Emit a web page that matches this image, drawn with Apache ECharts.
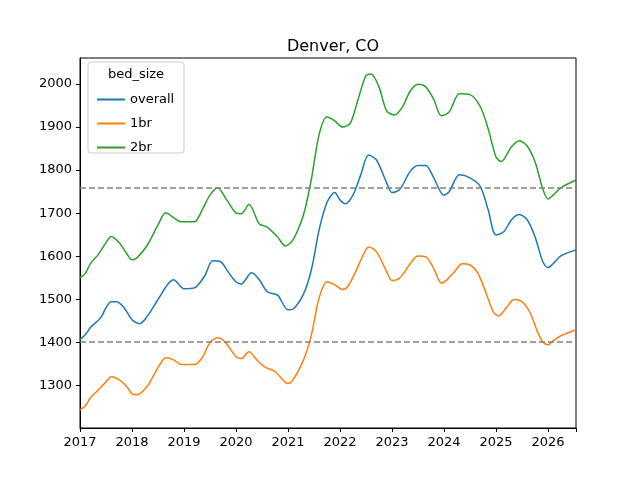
<!DOCTYPE html>
<html><head><meta charset="utf-8">
<script src="https://cdn.jsdelivr.net/npm/echarts@6/dist/echarts.min.js"></script>
<style>html,body{margin:0;padding:0;background:#fff}#c{width:640px;height:480px}</style>
</head><body><div id="c"></div>
<script>
const overall = [[2017.0,1407],[2017.1,1418],[2017.2,1435],[2017.4,1458],[2017.5,1481],[2017.6,1495],[2017.7,1495],[2017.85,1481],[2018.0,1453],[2018.15,1444],[2018.3,1462],[2018.5,1500],[2018.7,1537],[2018.8,1546],[2019.0,1525],[2019.2,1527],[2019.4,1555],[2019.55,1590],[2019.7,1588],[2019.85,1564],[2020.0,1541],[2020.1,1536],[2020.3,1562],[2020.45,1546],[2020.6,1518],[2020.8,1510],[2021.0,1476],[2021.1,1478],[2021.3,1513],[2021.45,1569],[2021.6,1662],[2021.75,1725],[2021.9,1748],[2022.0,1731],[2022.1,1722],[2022.25,1742],[2022.4,1789],[2022.55,1835],[2022.7,1824],[2022.9,1770],[2023.0,1748],[2023.15,1755],[2023.35,1797],[2023.5,1811],[2023.65,1811],[2023.8,1783],[2024.0,1742],[2024.1,1750],[2024.3,1789],[2024.5,1782],[2024.7,1762],[2024.85,1708],[2025.0,1650],[2025.15,1657],[2025.3,1685],[2025.45,1697],[2025.6,1685],[2025.75,1646],[2025.9,1588],[2026.0,1574],[2026.1,1583],[2026.25,1601],[2026.54,1615]];
const br1 = [[2017.0,1244],[2017.1,1253],[2017.2,1272],[2017.35,1290],[2017.5,1309],[2017.6,1321],[2017.75,1314],[2017.9,1298],[2018.0,1281],[2018.1,1279],[2018.3,1300],[2018.5,1342],[2018.65,1365],[2018.8,1360],[2018.95,1349],[2019.2,1349],[2019.35,1365],[2019.5,1400],[2019.65,1411],[2019.8,1400],[2020.0,1367],[2020.1,1363],[2020.25,1379],[2020.4,1360],[2020.55,1344],[2020.75,1333],[2021.0,1305],[2021.1,1314],[2021.3,1360],[2021.45,1418],[2021.6,1504],[2021.75,1541],[2021.9,1534],[2022.05,1523],[2022.15,1530],[2022.3,1564],[2022.45,1604],[2022.55,1622],[2022.7,1611],[2022.9,1564],[2023.0,1544],[2023.15,1550],[2023.35,1583],[2023.5,1601],[2023.65,1599],[2023.8,1573],[2023.95,1538],[2024.05,1545],[2024.2,1564],[2024.35,1583],[2024.5,1580],[2024.65,1562],[2024.8,1518],[2024.95,1471],[2025.05,1462],[2025.2,1481],[2025.35,1500],[2025.5,1495],[2025.65,1471],[2025.8,1425],[2025.9,1402],[2026.0,1395],[2026.1,1404],[2026.25,1416],[2026.54,1430]];
const br2 = [[2017.0,1550],[2017.1,1560],[2017.2,1583],[2017.35,1604],[2017.5,1632],[2017.6,1646],[2017.75,1632],[2017.9,1606],[2018.0,1592],[2018.1,1597],[2018.3,1627],[2018.5,1673],[2018.65,1701],[2018.8,1690],[2018.95,1680],[2019.2,1680],[2019.35,1708],[2019.5,1742],[2019.65,1759],[2019.8,1735],[2020.0,1701],[2020.1,1699],[2020.25,1720],[2020.45,1675],[2020.6,1668],[2020.8,1645],[2020.95,1624],[2021.1,1639],[2021.3,1697],[2021.45,1779],[2021.6,1883],[2021.75,1923],[2021.9,1914],[2022.05,1900],[2022.2,1909],[2022.35,1965],[2022.5,2019],[2022.6,2023],[2022.75,1993],[2022.9,1937],[2023.05,1928],[2023.2,1946],[2023.35,1983],[2023.5,1999],[2023.65,1993],[2023.8,1965],[2023.95,1926],[2024.1,1935],[2024.3,1977],[2024.5,1975],[2024.7,1947],[2024.85,1896],[2025.0,1831],[2025.1,1820],[2025.3,1854],[2025.45,1868],[2025.6,1856],[2025.75,1820],[2025.9,1757],[2026.0,1733],[2026.1,1742],[2026.25,1759],[2026.54,1777]];
const refLines = [1758, 1403];
const xTicks = [2017,2018,2019,2020,2021,2022,2023,2024,2025,2026];
const yTicks = [1300,1400,1500,1600,1700,1800,1900,2000];
const names = ['overall','1br','2br'];
const colors = ['#1f77b4','#ff7f0e','#2ca02c'];

const chart = echarts.init(document.getElementById('c'));
const font = 'DejaVu Sans';
const mk = (n,d,i) => ({name:n,type:'line',data:d,showSymbol:false,smooth:0.3,
  lineStyle:{color:colors[i],width:1.5},itemStyle:{color:colors[i]},
  markLine: i===0 ? {silent:true,symbol:'none',label:{show:false},
    lineStyle:{color:'#808080',type:[6,3],width:1.5},data:refLines.map(v=>({yAxis:v}))} : undefined});
chart.setOption({
  animation:false,
  textStyle:{fontFamily:font},
  title:{text:'Denver, CO',left:328,top:34,textAlign:'center',textStyle:{fontFamily:font,fontWeight:'normal',fontSize:16,color:'#000'}},
  grid:{left:80,right:64,top:58,bottom:52,show:true,borderColor:'#000',borderWidth:1},
  legend:{orient:'vertical',left:92,top:88,itemWidth:28,itemHeight:2,itemGap:11,icon:'rect',
    textStyle:{fontFamily:font,fontSize:13,color:'#000'},data:names},
  graphic:[{type:'rect',shape:{x:88,y:62,width:96,height:91,r:3},style:{fill:'rgba(255,255,255,0.8)',stroke:'#ccc',lineWidth:1},z:-1},
    {type:'text',x:136,y:68,style:{text:'bed_size',fontFamily:font,fontSize:13,fill:'#000',textAlign:'center'}}],
  xAxis:{type:'value',min:2017,max:2026.54,interval:1,
    axisLine:{lineStyle:{color:'#000'}},axisTick:{length:4,lineStyle:{color:'#000'}},splitLine:{show:false},
    axisLabel:{color:'#000',fontSize:13,fontFamily:font,formatter:v=>String(v),customValues:xTicks}},
  yAxis:{type:'value',min:1202,max:2060,
    axisLine:{show:true,lineStyle:{color:'#000'}},splitLine:{show:false},
    axisTick:{show:true,length:4,lineStyle:{color:'#000'},customValues:yTicks},
    axisLabel:{color:'#000',fontSize:13,fontFamily:font,formatter:v=>String(v),customValues:yTicks}},
  series:[mk(names[0],overall,0),mk(names[1],br1,1),mk(names[2],br2,2)]
});
</script></body></html>
